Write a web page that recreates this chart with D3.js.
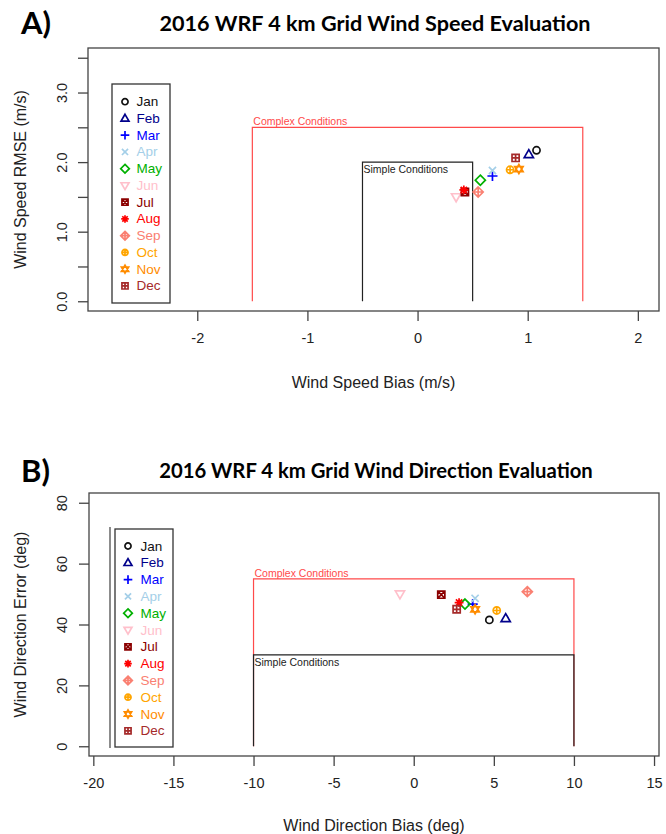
<!DOCTYPE html>
<html><head><meta charset="utf-8">
<script src="https://cdn.jsdelivr.net/npm/d3@7"></script>
<style>
html,body{margin:0;padding:0;background:#fff;}
svg{display:block;}
</style>
</head><body>
<svg id="chart" width="666" height="834"></svg>
<script>
// ---------- DATA ----------
const months = ["Jan","Feb","Mar","Apr","May","Jun","Jul","Aug","Sep","Oct","Nov","Dec"];
const monthColors = ["#111111","#00008B","#0000FF","#a4cfe8","#00b000","#FFC0CB","#8B0000","#FF0000","#FA8072","#FFA500","#FF8C00","#A52A2A"];
const monthPch = [1,2,3,4,5,6,7,8,9,10,11,12];

// Panel A: wind speed
const speedBias = [1.08, 1.01, 0.68, 0.68, 0.57, 0.35, 0.43, 0.42, 0.55, 0.84, 0.92, 0.89];
const speedRMSE = [2.17, 2.11, 1.80, 1.88, 1.74, 1.50, 1.57, 1.60, 1.57, 1.89, 1.90, 2.06];
const speedXTicks = [-2, -1, 0, 1, 2];
const speedYTicks = [0, 0.5, 1, 1.5, 2, 2.5, 3, 3.5];
const speedYLabels = [0, 1, 2, 3];
const speedComplex = {x0: -1.5, x1: 1.5, y: 2.5};
const speedSimple = {x0: -0.5, x1: 0.5, y: 2.0};

// Panel B: wind direction
const dirBias = [4.72, 5.74, 3.68, 3.83, 3.20, -0.86, 1.72, 2.83, 7.09, 5.18, 3.83, 2.68];
const dirError = [41.5, 42.0, 46.7, 48.6, 46.7, 50.0, 49.8, 47.2, 50.8, 44.6, 45.0, 45.0];
const dirXTicks = [-20, -15, -10, -5, 0, 5, 10, 15];
const dirYTicks = [0, 20, 40, 60, 80];
const dirComplex = {x0: -10, x1: 10, y: 55};
const dirSimple = {x0: -10, x1: 10, y: 30};

// ---------- HELPERS ----------
const svg = d3.select("#chart");
const FONT = "'Liberation Sans', Arial, Helvetica, sans-serif";

function symPath(pch, s) {
  const p = d3.path();
  const circ = (r) => { p.moveTo(r, 0); p.arc(0, 0, r, 0, Math.PI * 2); };
  const poly = (pts) => { p.moveTo(pts[0][0], pts[0][1]); pts.slice(1).forEach(q => p.lineTo(q[0], q[1])); p.closePath(); };
  const plus = (r) => { p.moveTo(-r, 0); p.lineTo(r, 0); p.moveTo(0, -r); p.lineTo(0, r); };
  const cross = (r) => { p.moveTo(-r, -r); p.lineTo(r, r); p.moveTo(-r, r); p.lineTo(r, -r); };
  switch (pch) {
    case 1: circ(s * 0.85); break;
    case 2: poly([[0, -s * 1.15], [s * 1.1, s * 0.75], [-s * 1.1, s * 0.75]]); break;
    case 3: plus(s * 1.2); break;
    case 4: cross(s * 0.85); break;
    case 5: poly([[0, -s * 1.2], [s * 1.2, 0], [0, s * 1.2], [-s * 1.2, 0]]); break;
    case 6: poly([[0, s * 1.15], [s * 1.1, -s * 0.75], [-s * 1.1, -s * 0.75]]); break;
    case 7: poly([[-s * 0.85, -s * 0.85], [s * 0.85, -s * 0.85], [s * 0.85, s * 0.85], [-s * 0.85, s * 0.85]]); cross(s * 0.85); break;
    case 8: plus(s * 1.05); cross(s * 0.75); break;
    case 9: poly([[0, -s * 1.2], [s * 1.2, 0], [0, s * 1.2], [-s * 1.2, 0]]); plus(s * 1.2); break;
    case 10: circ(s * 0.85); plus(s * 0.85); break;
    case 11: poly([[0, -s * 1.1], [s * 1.0, s * 0.6], [-s * 1.0, s * 0.6]]); poly([[0, s * 1.1], [s * 1.0, -s * 0.6], [-s * 1.0, -s * 0.6]]); break;
    case 12: poly([[-s * 0.85, -s * 0.85], [s * 0.85, -s * 0.85], [s * 0.85, s * 0.85], [-s * 0.85, s * 0.85]]); plus(s * 0.85); break;
  }
  return p.toString();
}

function drawPanel(cfg) {
  const g = svg.append("g");
  const x = d3.scaleLinear().domain(cfg.xDomain).range([cfg.left, cfg.right]);
  const y = d3.scaleLinear().domain(cfg.yDomain).range([cfg.bottom, cfg.top]);

  // panel letter & title
  g.append("text").attr("x", 21).attr("y", cfg.letterY)
    .attr("font-family", "Lato, 'Open Sans', sans-serif").attr("font-weight", 700)
    .attr("font-size", 31).attr("fill", "#000").text(cfg.letter);
  g.append("text").attr("x", cfg.titleX).attr("y", cfg.titleY).attr("text-anchor", "middle")
    .attr("font-family", "Lato, 'Open Sans', sans-serif").attr("font-weight", 700)
    .attr("font-size", cfg.titleSize).attr("fill", "#000").text(cfg.title);

  // box
  g.append("rect").attr("x", cfg.left).attr("y", cfg.top)
    .attr("width", cfg.right - cfg.left).attr("height", cfg.bottom - cfg.top)
    .attr("fill", "none").attr("stroke", "#444").attr("stroke-width", 1.3);

  // x axis
  const xAxis = d3.axisBottom(x).tickValues(cfg.xTicks).tickSize(10).tickPadding(12)
    .tickFormat(d => d3.format("d")(d).replace("−", "-"));
  const xa = g.append("g").attr("transform", `translate(0,${cfg.bottom})`).call(xAxis);
  xa.select(".domain").remove();
  xa.selectAll("line").attr("stroke", "#444").attr("stroke-width", 1.3);
  xa.selectAll("text").attr("font-family", FONT).attr("font-size", 14.5).attr("fill", "#222");

  // y axis
  const yAxis = d3.axisLeft(y).tickValues(cfg.yTicks).tickSize(10)
    .tickFormat(d => cfg.yLabels.includes(d) ? cfg.yFmt(d) : "");
  const ya = g.append("g").attr("transform", `translate(${cfg.left},0)`).call(yAxis);
  ya.select(".domain").remove();
  ya.selectAll("line").attr("stroke", "#444").attr("stroke-width", 1.3);
  ya.selectAll("text").attr("font-family", FONT).attr("font-size", 14.5).attr("fill", "#222")
    .attr("text-anchor", "middle").attr("x", 0).attr("dy", 0)
    .attr("transform", `translate(${62 - cfg.left},0) rotate(-90)`)
    .attr("dominant-baseline", "central");

  // axis titles
  g.append("text").attr("x", (cfg.left + cfg.right) / 2).attr("y", cfg.xTitleY)
    .attr("text-anchor", "middle").attr("font-family", FONT).attr("font-size", 16).attr("fill", "#222")
    .text(cfg.xTitle);
  g.append("text").attr("transform", `translate(20,${(cfg.top + cfg.bottom) / 2}) rotate(-90)`)
    .attr("text-anchor", "middle").attr("dominant-baseline", "central")
    .attr("font-family", FONT).attr("font-size", 16).attr("fill", "#222")
    .text(cfg.yTitle);

  // condition boxes
  const cond = (c, col, label, below) => {
    g.append("path").attr("fill", "none").attr("stroke", col).attr("stroke-width", 1.2)
      .attr("d", `M${x(c.x0)},${y(0)} L${x(c.x0)},${y(c.y)} L${x(c.x1)},${y(c.y)} L${x(c.x1)},${y(0)}`);
    g.append("text").attr("x", x(c.x0) + 1).attr("y", below ? y(c.y) + 11 : y(c.y) - 2)
      .attr("font-family", FONT).attr("font-size", 10.5).attr("fill", col).text(label);
  };
  cond(cfg.complex, "#ff4a4a", "Complex Conditions", false);
  cond(cfg.simple, "#222", "Simple Conditions", true);

  // points
  g.append("g").selectAll("path").data(months).join("path")
    .attr("transform", (d, i) => `translate(${x(cfg.xs[i])},${y(cfg.ys[i])})`)
    .attr("d", (d, i) => symPath(monthPch[i], 4.2))
    .attr("fill", "none").attr("stroke", (d, i) => monthColors[i]).attr("stroke-width", 1.7);

  // legend
  const L = cfg.legend;
  if (L.extraLineX) {
    g.append("line").attr("x1", L.extraLineX).attr("x2", L.extraLineX)
      .attr("y1", L.y0 - 2).attr("y2", L.y1 + 1).attr("stroke", "#666").attr("stroke-width", 1.5);
  }
  g.append("rect").attr("x", L.x0).attr("y", L.y0).attr("width", L.x1 - L.x0).attr("height", L.y1 - L.y0)
    .attr("fill", "#fff").attr("stroke", "#333").attr("stroke-width", 1.3);
  const lg = g.append("g").selectAll("g").data(months).join("g")
    .attr("transform", (d, i) => `translate(0,${L.first + i * L.step})`);
  lg.append("path").attr("transform", `translate(${L.symX},0)`)
    .attr("d", (d, i) => symPath(monthPch[i], 3.6))
    .attr("fill", "none").attr("stroke", (d, i) => monthColors[i]).attr("stroke-width", 1.7);
  lg.append("text").attr("x", L.textX).attr("y", 0).attr("dominant-baseline", "central")
    .attr("font-family", FONT).attr("font-size", 13.5).attr("fill", (d, i) => monthColors[i])
    .text(d => d);
}

drawPanel({
  letter: "A)", letterY: 34, title: "2016 WRF 4 km Grid Wind Speed Evaluation", titleX: 375, titleY: 31, titleSize: 21.6,
  left: 88, right: 659, top: 48, bottom: 311,
  xDomain: [-2.992, 2.192], yDomain: [-0.14, 3.64],
  xTicks: speedXTicks, yTicks: speedYTicks, yLabels: speedYLabels, yFmt: d3.format(".1f"),
  xTitle: "Wind Speed Bias (m/s)", xTitleY: 388, yTitle: "Wind Speed RMSE (m/s)",
  complex: speedComplex, simple: speedSimple,
  xs: speedBias, ys: speedRMSE,
  legend: {x0: 112, x1: 170, y0: 84, y1: 303, first: 101.7, step: 16.75, symX: 125, textX: 136.5}
});

drawPanel({
  letter: "B)", letterY: 482, title: "2016 WRF 4 km Grid Wind Direction Evaluation", titleX: 376, titleY: 478, titleSize: 20.3,
  left: 89, right: 659, top: 493, bottom: 756,
  xDomain: [-20.27, 15.31], yDomain: [-3.2, 83.2],
  xTicks: dirXTicks, yTicks: dirYTicks, yLabels: dirYTicks, yFmt: d3.format("d"),
  xTitle: "Wind Direction Bias (deg)", xTitleY: 831, yTitle: "Wind Direction Error (deg)",
  complex: dirComplex, simple: dirSimple,
  xs: dirBias, ys: dirError,
  legend: {x0: 115, x1: 173, y0: 529, y1: 747, first: 546, step: 16.8, symX: 128, textX: 140.5, extraLineX: 110}
});
</script>
</body></html>
